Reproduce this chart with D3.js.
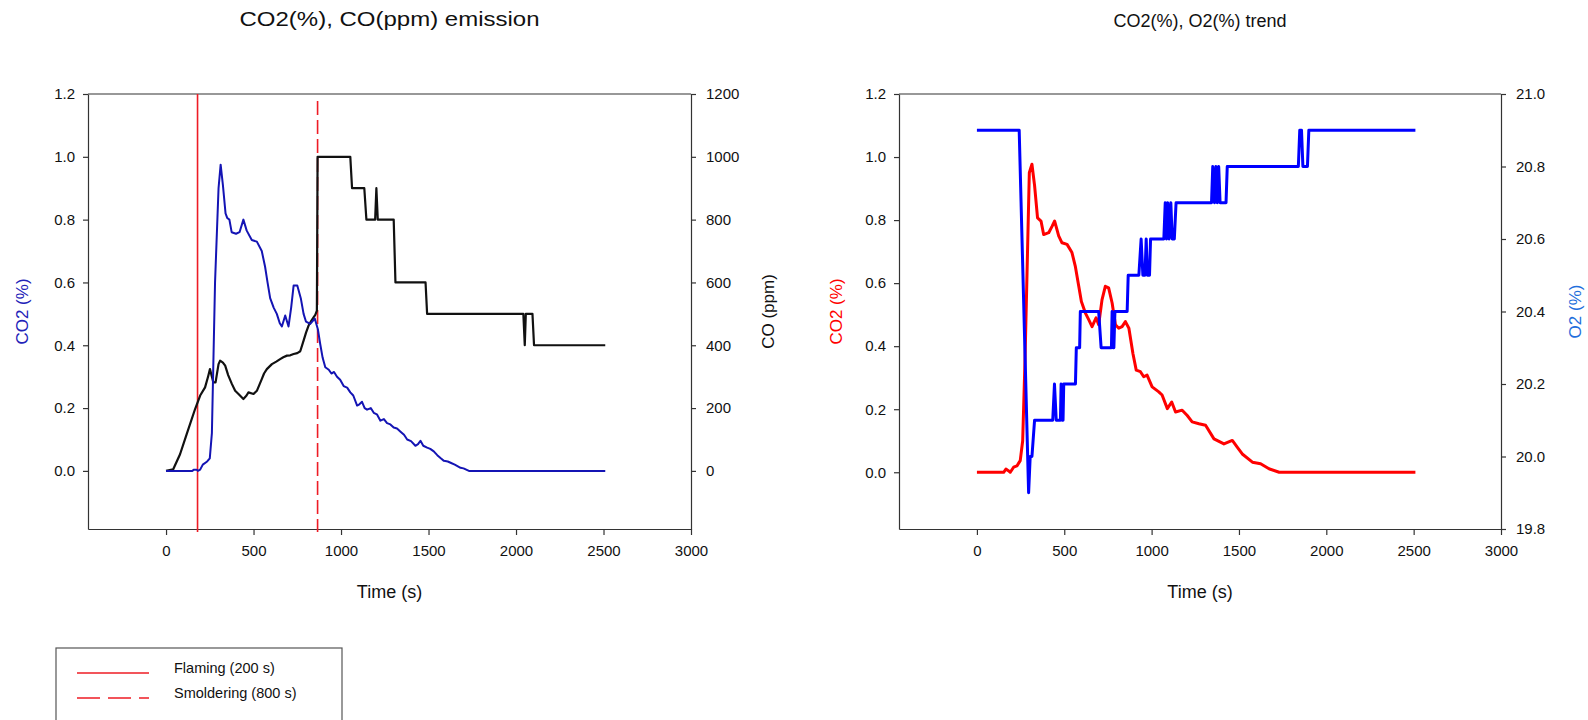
<!DOCTYPE html>
<html>
<head>
<meta charset="utf-8">
<script src="https://cdn.jsdelivr.net/npm/d3@7/dist/d3.min.js"></script>
<style>
  body { margin: 0; background: #fff; }
  svg { display: block; font-family: "Liberation Sans", Arial, sans-serif; }
</style>
</head>
<body>
<svg id="chart" width="1588" height="720"></svg>
<script>
// ---- data ----
const timeTicks = [0, 500, 1000, 1500, 2000, 2500, 3000];
const co2Ticks = [0, 0.2, 0.4, 0.6, 0.8, 1.0, 1.2];
const coTicks = [0, 200, 400, 600, 800, 1000, 1200];
const o2Ticks = [19.8, 20.0, 20.2, 20.4, 20.6, 20.8, 21.0];

// left panel: CO2 (%) and CO (ppm)
const leftCo2Time = [0, 150, 160, 175, 182, 195, 210, 235, 250, 262, 280, 300, 312, 325, 340, 350, 362, 375, 400, 420, 442, 461, 490, 519, 547, 566, 580, 595, 615, 633, 650, 662, 681, 700, 715, 729, 750, 770, 786, 800, 824, 850, 868, 881, 895, 910, 930, 945, 960, 977, 995, 1015, 1035, 1053, 1070, 1092, 1105, 1120, 1135, 1149, 1170, 1187, 1205, 1225, 1245, 1263, 1282, 1301, 1320, 1340, 1360, 1378, 1400, 1425, 1440, 1454, 1470, 1492, 1510, 1530, 1550, 1570, 1588, 1610, 1626, 1650, 1683, 1700, 1731, 2510];
const leftCo2Pct = [0, 0, 0.004, 0.004, 0, 0.004, 0.02, 0.03, 0.04, 0.12, 0.6, 0.9, 0.975, 0.91, 0.82, 0.805, 0.8, 0.76, 0.755, 0.76, 0.8, 0.765, 0.735, 0.73, 0.7, 0.65, 0.6, 0.55, 0.52, 0.5, 0.47, 0.46, 0.495, 0.46, 0.52, 0.59, 0.59, 0.55, 0.5, 0.475, 0.468, 0.485, 0.45, 0.404, 0.36, 0.33, 0.322, 0.31, 0.315, 0.3, 0.29, 0.27, 0.265, 0.25, 0.24, 0.208, 0.212, 0.22, 0.2, 0.195, 0.2, 0.185, 0.18, 0.16, 0.165, 0.152, 0.148, 0.138, 0.135, 0.125, 0.115, 0.1, 0.095, 0.08, 0.085, 0.096, 0.08, 0.074, 0.07, 0.062, 0.05, 0.04, 0.032, 0.03, 0.026, 0.02, 0.01, 0.008, 0, 0];

const leftCoTime = [0, 41, 80, 118, 166, 195, 223, 240, 251, 262, 270, 283, 300, 309, 325, 338, 355, 376, 395, 414, 442, 460, 471, 500, 519, 547, 560, 576, 605, 630, 652, 670, 691, 710, 729, 750, 767, 786, 800, 814, 830, 843, 853, 862, 866, 1053, 1063, 1133, 1145, 1195, 1202, 1210, 1301, 1311, 1483, 1492, 2042, 2050, 2056, 2094, 2103, 2510];
const leftCoPpm = [0, 5, 53, 117, 197, 240, 266, 300, 324, 300, 282, 282, 340, 351, 345, 335, 305, 277, 255, 245, 229, 240, 250, 245, 255, 292, 310, 324, 340, 348, 356, 362, 367, 368, 372, 375, 381, 415, 440, 462, 478, 489, 497, 510, 1000, 1000, 900, 900, 800, 800, 900, 800, 800, 600, 600, 500, 500, 400, 500, 500, 400, 400];

// event markers (vertical red lines)
const eventTimes = [180, 866];
const eventLabels = ["Flaming (200 s)", "Smoldering (800 s)"];

// right panel: CO2 (%) and O2 (%)
const rightCo2Time = [0, 153, 166, 180, 191, 210, 229, 248, 262, 275, 286, 300, 315, 330, 347, 367, 382, 411, 430, 445, 468, 487, 516, 544, 563, 583, 598, 621, 640, 659, 682, 697, 716, 735, 754, 774, 793, 812, 831, 850, 870, 893, 912, 936, 955, 974, 1003, 1041, 1060, 1090, 1115, 1137, 1175, 1204, 1232, 1271, 1309, 1357, 1414, 1462, 1490, 1519, 1577, 1624, 1672, 1730, 2510];
const rightCo2Pct = [0, 0, 0.01, 0.005, 0, 0.016, 0.02, 0.037, 0.1, 0.35, 0.61, 0.95, 0.977, 0.91, 0.807, 0.797, 0.754, 0.76, 0.78, 0.797, 0.75, 0.728, 0.723, 0.697, 0.654, 0.59, 0.542, 0.505, 0.484, 0.462, 0.49, 0.468, 0.547, 0.59, 0.585, 0.537, 0.468, 0.457, 0.462, 0.478, 0.457, 0.377, 0.324, 0.319, 0.303, 0.308, 0.271, 0.255, 0.245, 0.202, 0.223, 0.191, 0.197, 0.18, 0.16, 0.154, 0.149, 0.106, 0.09, 0.101, 0.08, 0.058, 0.032, 0.027, 0.011, 0, 0];

const rightO2Time = [0, 242, 296, 305, 315, 330, 434, 444, 454, 478, 482, 488, 493, 497, 564, 569, 588, 592, 697, 711, 770, 774, 779, 784, 790, 860, 866, 927, 940, 950, 962, 969, 976, 988, 994, 1070, 1078, 1085, 1092, 1100, 1110, 1118, 1130, 1140, 1343, 1350, 1360, 1368, 1376, 1384, 1392, 1426, 1433, 1840, 1848, 1858, 1866, 1892, 1900, 2510];
const rightO2Pct = [20.9, 20.9, 19.9, 20.0, 20.0, 20.1, 20.1, 20.2, 20.1, 20.1, 20.2, 20.1, 20.1, 20.2, 20.2, 20.3, 20.3, 20.4, 20.4, 20.3, 20.3, 20.4, 20.3, 20.3, 20.4, 20.4, 20.5, 20.5, 20.6, 20.5, 20.5, 20.6, 20.5, 20.5, 20.6, 20.6, 20.7, 20.6, 20.7, 20.6, 20.7, 20.6, 20.6, 20.7, 20.7, 20.8, 20.7, 20.8, 20.7, 20.8, 20.7, 20.7, 20.8, 20.8, 20.9, 20.9, 20.8, 20.8, 20.9, 20.9];

const svg = d3.select("#chart");
const axisColor = "#333";

// helper: zip two arrays into points
function pts(xs, ys) {
  return xs.map((x, i) => ({ x: x, y: ys[i] }));
}

// draws one panel frame with bottom, left, right axes
function drawPanel(cfg) {
  const g = svg.append("g");
  const x = d3.scaleLinear().domain([-446, 3000]).range([cfg.left, cfg.right]);
  const yL = d3.scaleLinear().domain(cfg.leftDomain).range([cfg.bottom, cfg.top]);
  const yR = d3.scaleLinear().domain(cfg.rightDomain).range([cfg.bottom, cfg.top]);

  // frame top line
  g.append("line")
    .attr("x1", cfg.left).attr("x2", cfg.right)
    .attr("y1", cfg.top).attr("y2", cfg.top)
    .attr("stroke", axisColor).attr("stroke-width", 1.2);

  const styleAxis = sel => {
    sel.selectAll("path.domain").attr("stroke", axisColor).attr("stroke-width", 1.2);
    sel.selectAll(".tick line").attr("stroke", axisColor).attr("stroke-width", 1.2);
    sel.selectAll(".tick text").attr("fill", "#111").style("font-size", "15px")
      .style("font-family", "'Liberation Sans', Arial, sans-serif");
  };

  g.append("g")
    .attr("transform", `translate(0,${cfg.bottom})`)
    .call(d3.axisBottom(x).tickValues(timeTicks).tickFormat(d3.format("d"))
      .tickSize(6).tickSizeOuter(0).tickPadding(10))
    .call(styleAxis);

  g.append("g")
    .attr("transform", `translate(${cfg.left},0)`)
    .call(d3.axisLeft(yL).tickValues(cfg.leftTicks).tickFormat(d3.format(".1f")).tickSize(5).tickSizeOuter(0).tickPadding(8))
    .call(styleAxis);

  g.append("g")
    .attr("transform", `translate(${cfg.right},0)`)
    .call(d3.axisRight(yR).tickValues(cfg.rightTicks).tickFormat(cfg.rightFormat).tickSize(5).tickSizeOuter(0).tickPadding(10))
    .call(styleAxis);

  const midX = (cfg.left + cfg.right) / 2;
  const midY = (cfg.top + cfg.bottom) / 2;

  // titles
  const title = g.append("text")
    .attr("x", midX).attr("y", cfg.titleY)
    .attr("text-anchor", "middle")
    .style("font-size", cfg.titleSize).attr("fill", "#111")
    .text(cfg.title);
  if (cfg.titleWidth) {
    title.attr("textLength", cfg.titleWidth).attr("lengthAdjust", "spacingAndGlyphs");
  }

  g.append("text")
    .attr("x", midX).attr("y", 598)
    .attr("text-anchor", "middle")
    .style("font-size", "18px").attr("fill", "#111")
    .text("Time (s)");

  g.append("text")
    .attr("transform", `translate(${cfg.leftLabelX},${midY}) rotate(-90)`)
    .attr("text-anchor", "middle").attr("dy", "0.35em")
    .style("font-size", "17px").attr("fill", cfg.leftLabelColor)
    .text(cfg.leftLabel);

  g.append("text")
    .attr("transform", `translate(${cfg.rightLabelX},${midY}) rotate(-90)`)
    .attr("text-anchor", "middle").attr("dy", "0.35em")
    .style("font-size", "17px").attr("fill", cfg.rightLabelColor)
    .text(cfg.rightLabel);

  return { g, x, yL, yR };
}

// ---- left panel ----
const left = drawPanel({
  left: 88, right: 691, top: 94, bottom: 529,
  leftDomain: [-0.185, 1.2], rightDomain: [-185, 1200],
  leftTicks: co2Ticks, rightTicks: coTicks, rightFormat: d3.format("d"),
  title: "CO2(%), CO(ppm) emission", titleY: 26, titleSize: "21px", titleWidth: 300,
  leftLabel: "CO2 (%)", leftLabelColor: "#2222b8", leftLabelX: 22,
  rightLabel: "CO (ppm)", rightLabelColor: "#111", rightLabelX: 768
});

// event lines
left.g.append("line")
  .attr("x1", left.x(eventTimes[0])).attr("x2", left.x(eventTimes[0]))
  .attr("y1", 94).attr("y2", 532)
  .attr("stroke", "#ee1c25").attr("stroke-width", 1.6);
left.g.append("line")
  .attr("x1", left.x(eventTimes[1])).attr("x2", left.x(eventTimes[1]))
  .attr("y1", 101).attr("y2", 532)
  .attr("stroke", "#ee1c25").attr("stroke-width", 1.6)
  .attr("stroke-dasharray", "14,5");

const leftCo2Line = d3.line().x(d => left.x(d.x)).y(d => left.yL(d.y));
const leftCoLine = d3.line().x(d => left.x(d.x)).y(d => left.yR(d.y));

left.g.append("path")
  .datum(pts(leftCoTime, leftCoPpm))
  .attr("d", leftCoLine)
  .attr("fill", "none").attr("stroke", "#111").attr("stroke-width", 2.2)
  .attr("stroke-linejoin", "round");

left.g.append("path")
  .datum(pts(leftCo2Time, leftCo2Pct))
  .attr("d", leftCo2Line)
  .attr("fill", "none").attr("stroke", "#1414b4").attr("stroke-width", 2)
  .attr("stroke-linejoin", "round");

// ---- right panel ----
const right = drawPanel({
  left: 899, right: 1501, top: 94, bottom: 529,
  leftDomain: [-0.18, 1.2], rightDomain: [19.8, 21.0],
  leftTicks: co2Ticks, rightTicks: o2Ticks, rightFormat: d3.format(".1f"),
  title: "CO2(%), O2(%) trend", titleY: 27, titleSize: "18px",
  leftLabel: "CO2 (%)", leftLabelColor: "#ff0000", leftLabelX: 836,
  rightLabel: "O2 (%)", rightLabelColor: "#1f6fdc", rightLabelX: 1575
});

const rightCo2Line = d3.line().x(d => right.x(d.x)).y(d => right.yL(d.y));
const rightO2Line = d3.line().x(d => right.x(d.x)).y(d => right.yR(d.y));

right.g.append("path")
  .datum(pts(rightCo2Time, rightCo2Pct))
  .attr("d", rightCo2Line)
  .attr("fill", "none").attr("stroke", "#ff0000").attr("stroke-width", 3)
  .attr("stroke-linejoin", "round");

right.g.append("path")
  .datum(pts(rightO2Time, rightO2Pct))
  .attr("d", rightO2Line)
  .attr("fill", "none").attr("stroke", "#0000ff").attr("stroke-width", 3)
  .attr("stroke-linejoin", "round");

// ---- legend for event lines ----
const legend = svg.append("g").attr("transform", "translate(56,648)");
legend.append("rect")
  .attr("width", 286).attr("height", 90)
  .attr("fill", "#fff").attr("stroke", "#555").attr("stroke-width", 1.2);

legend.selectAll("line.key")
  .data(eventLabels)
  .enter().append("line")
  .attr("class", "key")
  .attr("x1", 21).attr("x2", 93)
  .attr("y1", (d, i) => 25 + i * 25).attr("y2", (d, i) => 25 + i * 25)
  .attr("stroke", "#ee1c25").attr("stroke-width", 1.6)
  .attr("stroke-dasharray", (d, i) => i === 0 ? null : "23,8");

legend.selectAll("text.key")
  .data(eventLabels)
  .enter().append("text")
  .attr("class", "key")
  .attr("x", 118).attr("y", (d, i) => 20 + i * 25)
  .attr("dy", "0.35em")
  .style("font-size", "14.5px").attr("fill", "#111")
  .text(d => d);
</script>
</body>
</html>
